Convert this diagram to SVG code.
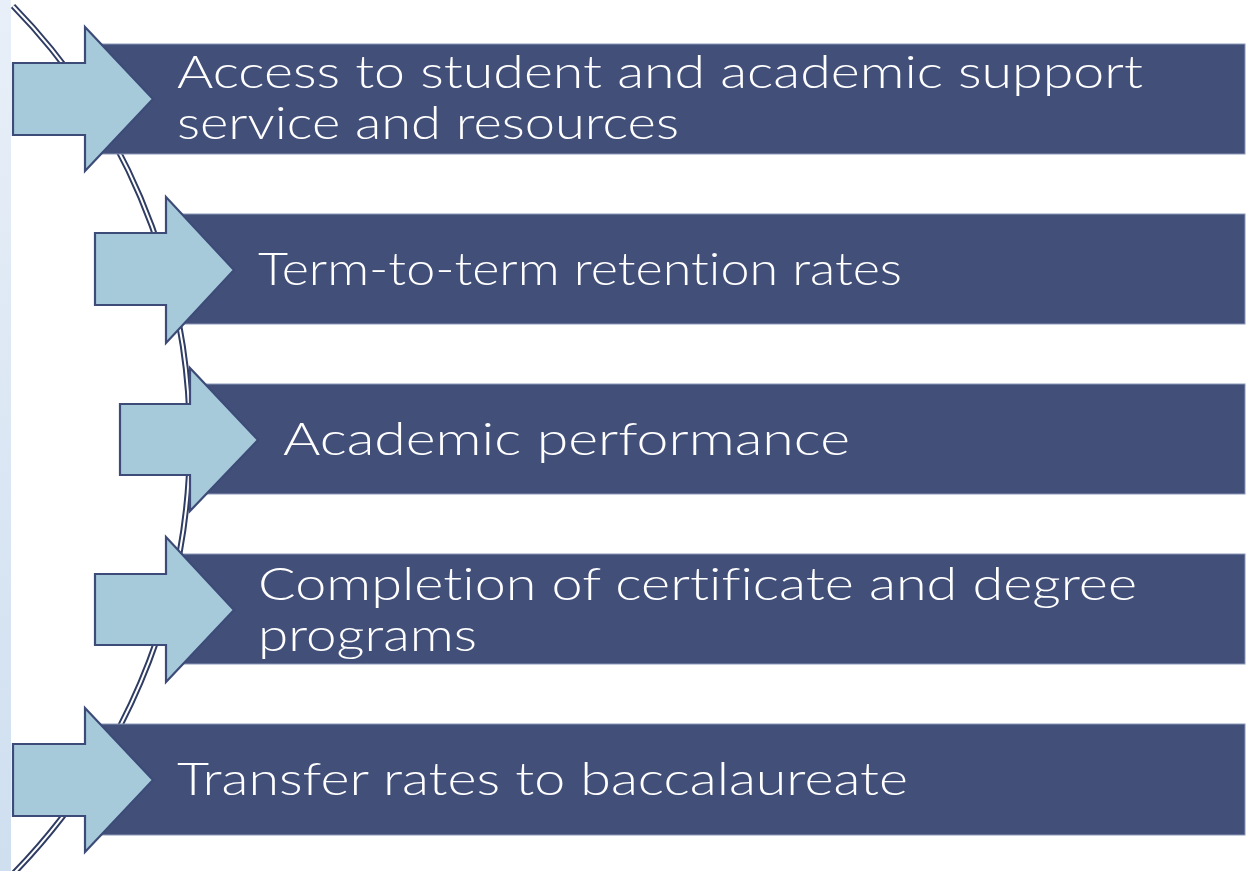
<svg xmlns="http://www.w3.org/2000/svg" width="1253" height="871" viewBox="0 0 1253 871">
<defs>
<linearGradient id="strip" x1="0" y1="0" x2="0" y2="1">
<stop offset="0" stop-color="#e8eff8"/>
<stop offset="1" stop-color="#cfdff0"/>
</linearGradient>
<style>
.bar{fill:#424f78;stroke:#8a97b8;stroke-width:1}
.arr{fill:#a7cadb;stroke:#3d4b78;stroke-width:2.2;stroke-linejoin:miter}
.t{font-family:Lato,"DejaVu Sans","Liberation Sans",sans-serif;font-weight:300;font-size:46px;fill:#ffffff;font-variant-ligatures:none;font-feature-settings:"liga" 0,"dlig" 0}
.arcO{fill:none;stroke:#2f3c63;stroke-width:6}
.arcI{fill:none;stroke:#ffffff;stroke-width:2}
</style>
</defs>
<rect x="0" y="0" width="1253" height="871" fill="#ffffff"/>
<rect x="0" y="0" width="11" height="871" fill="url(#strip)"/>
<g id="connectors">
<path class="arcO" d="M 13 6 A 621 621 0 0 1 13 874"/>
<path class="arcI" d="M 13 6 A 621 621 0 0 1 13 874"/>
</g>
<g id="node1">
<rect class="bar" x="100" y="44" width="1145" height="110"/>
<polygon class="arr" points="13,63 85,63 85,27 153,99 85,171 85,135 13,135"/>
<text class="t" x="177" y="88" textLength="966" lengthAdjust="spacingAndGlyphs">Access to student and academic support</text>
<text class="t" x="177" y="139" textLength="502" lengthAdjust="spacingAndGlyphs">service and resources</text>
</g>
<g id="node2">
<rect class="bar" x="182" y="214" width="1063" height="110"/>
<polygon class="arr" points="95,233 166,233 166,197 234,270 166,343 166,305 95,305"/>
<text class="t" x="258" y="285" textLength="644" lengthAdjust="spacingAndGlyphs">Term-to-term retention rates</text>
</g>
<g id="node3">
<rect class="bar" x="206" y="384" width="1039" height="110"/>
<polygon class="arr" points="120,404 190,404 190,368 258,440 190,511 190,475 120,475"/>
<text class="t" x="283" y="455" textLength="567" lengthAdjust="spacingAndGlyphs">Academic performance</text>
</g>
<g id="node4">
<rect class="bar" x="182" y="554" width="1063" height="110"/>
<polygon class="arr" points="95,574 166,574 166,537 234,610 166,682 166,645 95,645"/>
<text class="t" x="258" y="600" textLength="879" lengthAdjust="spacingAndGlyphs">Completion of certificate and degree</text>
<text class="t" x="258" y="651" textLength="219" lengthAdjust="spacingAndGlyphs">programs</text>
</g>
<g id="node5">
<rect class="bar" x="100" y="724" width="1145" height="111"/>
<polygon class="arr" points="13,744 85,744 85,708 153,780 85,852 85,816 13,816"/>
<text class="t" x="177" y="795" textLength="731" lengthAdjust="spacingAndGlyphs">Transfer rates to baccalaureate</text>
</g>
</svg>
